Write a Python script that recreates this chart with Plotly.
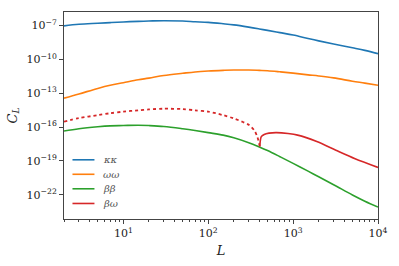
import numpy as np
import plotly.graph_objects as go

# multipole values (x samples)
L_main = [2, 3, 5, 7, 10, 15, 20, 30, 50, 70, 100, 150, 200, 300, 400, 500, 700,
          1000, 1500, 2000, 3000, 5000, 7000, 10000]

# log10 of C_L
log_kk = [-7.03, -6.89, -6.80, -6.74, -6.68, -6.63, -6.60, -6.57, -6.60, -6.66, -6.72,
          -6.84, -6.94, -7.14, -7.30, -7.43, -7.63, -7.84, -8.15, -8.36, -8.63, -8.97,
          -9.20, -9.49]
log_ww = [-13.43, -13.06, -12.57, -12.29, -12.06, -11.80, -11.66, -11.43, -11.23, -11.11,
          -11.03, -10.97, -10.94, -10.94, -10.97, -11.00, -11.10, -11.22, -11.37, -11.47,
          -11.64, -11.93, -12.10, -12.29]
log_bb = [-16.34, -16.14, -15.97, -15.89, -15.86, -15.83, -15.86, -15.94, -16.14, -16.30,
          -16.49, -16.71, -16.94, -17.38, -17.76, -18.08, -18.62, -19.21, -19.90, -20.40,
          -21.10, -22.01, -22.56, -23.08]

# beta-omega: negative part (dotted) and positive part (solid)
L_bw_neg = [2, 3, 5, 7, 10, 15, 20, 30, 50, 70, 100, 150, 200, 300, 350, 380, 405]
log_bw_neg = [-15.51, -15.20, -14.94, -14.77, -14.63, -14.51, -14.43, -14.37, -14.40,
              -14.51, -14.63, -14.94, -15.23, -15.80, -16.30, -16.90, -17.71]
L_bw_pos = [405, 422, 456, 519, 638, 871, 1130, 1900, 3190, 5370, 10000]
log_bw_pos = [-17.71, -16.85, -16.65, -16.53, -16.49, -16.57, -16.71, -17.28, -18.05,
              -18.80, -19.57]

labels = ["κκ", "ωω", "ββ", "βω"]
colors = ["#1f77b4", "#ff7f0e", "#2ca02c", "#d62728"]

x_ticks = [10, 100, 1000, 10000]
x_ticktext = ["10<sup>1</sup>", "10<sup>2</sup>", "10<sup>3</sup>", "10<sup>4</sup>"]
y_ticks = [1e-7, 1e-10, 1e-13, 1e-16, 1e-19, 1e-22]
y_ticktext = ["10<sup>−7</sup>", "10<sup>−10</sup>", "10<sup>−13</sup>",
              "10<sup>−16</sup>", "10<sup>−19</sup>", "10<sup>−22</sup>"]

def p(v):
    return [10.0 ** x for x in v]

fig = go.Figure()
for lab, col, ys in zip(labels[:3], colors[:3], [log_kk, log_ww, log_bb]):
    fig.add_trace(go.Scatter(x=L_main, y=p(ys), mode="lines", name=lab, showlegend=False,
                             line=dict(color=col, width=1.6, shape="spline", smoothing=1.0)))
fig.add_trace(go.Scatter(x=L_bw_pos, y=p(log_bw_pos), mode="lines", name=labels[3], showlegend=False,
                         line=dict(color=colors[3], width=1.6, shape="spline", smoothing=0.8)))
fig.add_trace(go.Scatter(x=L_bw_neg, y=p(log_bw_neg), mode="lines", showlegend=False,
                         line=dict(color=colors[3], width=1.8, dash="dot", shape="spline", smoothing=0.8)))

minor_x = []
for d in [1, 10, 100, 1000]:
    for k in range(2, 10):
        if 2 <= k * d <= 10000:
            minor_x.append(k * d)

# manual legend (paper coordinates of plot area)
leg_y = [0.286, 0.216, 0.146, 0.075]
shapes = []
annotations = []
for lab, col, yy in zip(labels, colors, leg_y):
    shapes.append(dict(type="line", xref="paper", yref="paper", x0=0.027, x1=0.097,
                       y0=yy, y1=yy, line=dict(color=col, width=1.6)))
    annotations.append(dict(xref="paper", yref="paper", x=0.118, y=yy, xanchor="left",
                            yanchor="middle", showarrow=False, text="<i>" + lab + "</i>",
                            font=dict(family="DejaVu Serif, serif", size=10, color="#555")))

serif = "DejaVu Serif, Liberation Serif, serif"
fig.update_layout(
    width=399, height=266,
    margin=dict(l=56, r=15, t=11, b=42),
    paper_bgcolor="white", plot_bgcolor="white",
    font=dict(family=serif, size=11, color="#222"),
    showlegend=False,
    shapes=shapes, annotations=annotations,
    xaxis=dict(type="log", range=[np.log10(2), 4], showgrid=False, zeroline=False,
               showline=True, linecolor="#444", linewidth=1, mirror=True,
               ticks="outside", ticklen=4, tickcolor="#444",
               tickvals=x_ticks, ticktext=x_ticktext, tickfont=dict(size=11),
               ticklabeloverflow="allow",
               minor=dict(tickvals=minor_x, ticks="outside", ticklen=2, tickcolor="#444"),
               title=dict(text="<i>L</i>", standoff=6, font=dict(size=13))),
    yaxis=dict(type="log", range=[-24.14, -5.8], showgrid=False, zeroline=False,
               showline=True, linecolor="#444", linewidth=1, mirror=True,
               ticks="outside", ticklen=4, tickcolor="#444",
               tickvals=y_ticks, ticktext=y_ticktext, tickfont=dict(size=11),
               title=dict(text="<i>C</i><sub><i>L</i></sub>", standoff=6, font=dict(size=13))),
)

fig.write_html("out.html", config={"displayModeBar": False},
               post_script="document.body.style.margin='0';")
